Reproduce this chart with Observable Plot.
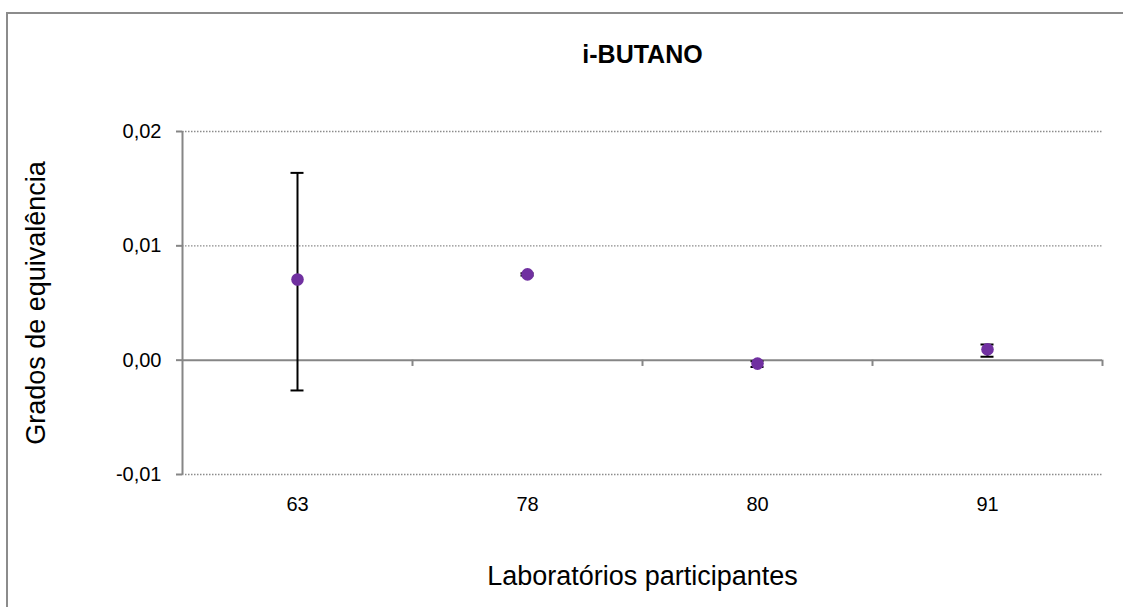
<!DOCTYPE html>
<html>
<head>
<meta charset="utf-8">
<script src="https://cdn.jsdelivr.net/npm/d3@7"></script>
<script src="https://cdn.jsdelivr.net/npm/@observablehq/plot@0.6"></script>
<style>
  html, body { margin: 0; padding: 0; background: #fff; width: 1123px; height: 607px; overflow: hidden; }
  #wrap { position: relative; width: 1123px; height: 607px; }
  #border { position: absolute; left: 6px; top: 12px; width: 1130px; height: 620px; border: 2px solid #8c8c8c; box-sizing: border-box; }
  #chart { position: absolute; left: 0; top: 0; }
</style>
</head>
<body>
<div id="wrap"><div id="border"></div><div id="chart"></div></div>
<script>
const labs = ["63", "78", "80", "91"];
const values = [0.00706, 0.0075, -0.0003, 0.00094];
const lower = [-0.00265, 0.0074, -0.0006, 0.0003];
const upper = [0.01638, 0.0076, -0.0001, 0.00137];
const yTicks = [-0.01, 0, 0.01, 0.02];
const title = "i-BUTANO";
const xLabel = "Laboratórios participantes";
const yLabel = "Grados de equivalência";

const data = labs.map((l, i) => ({lab: l, v: values[i], lo: lower[i], hi: upper[i]}));
const half = 920 / labs.length / 2;

const chart = Plot.plot({
  width: 1123,
  height: 607,
  marginLeft: 182,
  marginRight: 21,
  marginTop: 131,
  marginBottom: 133,
  style: {fontFamily: "'Liberation Sans', Arial, sans-serif", fontSize: "20px", background: "transparent", color: "#000"},
  x: {domain: labs, padding: 0, axis: null},
  y: {domain: [-0.01, 0.02], axis: null},
  marks: [
    Plot.gridY([-0.01, 0.01, 0.02], {stroke: "#8c8c8c", strokeOpacity: 1, strokeDasharray: "1.5,1.5", strokeWidth: 1.3}),
    Plot.ruleY([0], {stroke: "#868686", strokeWidth: 2}),
    Plot.ruleX(labs, {x: d => d, y1: 0, y2: -0.00055, dx: half, stroke: "#868686", strokeWidth: 2}),
    Plot.ruleX([labs[0]], {x: d => d, y1: -0.01, y2: 0.02, dx: -half, stroke: "#868686", strokeWidth: 2}),
    Plot.axisY({ticks: yTicks, tickFormat: d => d.toFixed(2).replace(".", ",").replace("-0,00", "0,00"), tickSize: 6, tickPadding: 15, stroke: "#868686", strokeWidth: 2, fill: "#000", fontSize: 20, label: null}),
    Plot.text(labs, {x: d => d, frameAnchor: "bottom", dy: 36, fontSize: 20, fill: "#000"}),
    Plot.ruleX(data, {x: "lab", y1: "lo", y2: "hi", stroke: "#000", strokeWidth: 2}),
    Plot.tickY(data, {x: "lab", y: "hi", stroke: "#000", strokeWidth: 2, inset: half - 6.5}),
    Plot.tickY(data, {x: "lab", y: "lo", stroke: "#000", strokeWidth: 2, inset: half - 6.5}),
    Plot.dot(data, {x: "lab", y: "v", r: 6.3, fill: "#7030A0", stroke: "none"}),
    Plot.text([title], {frameAnchor: "top", dy: -86, fontSize: 25, fontWeight: "bold", fill: "#000"}),
    Plot.text([xLabel], {frameAnchor: "bottom", dy: 110, fontSize: 27, fill: "#000"}),
    Plot.text([yLabel], {frameAnchor: "left", dx: -146, rotate: -90, textAnchor: "middle", fontSize: 27, fill: "#000"})
  ]
});
document.getElementById("chart").appendChild(chart);
</script>
</body>
</html>
